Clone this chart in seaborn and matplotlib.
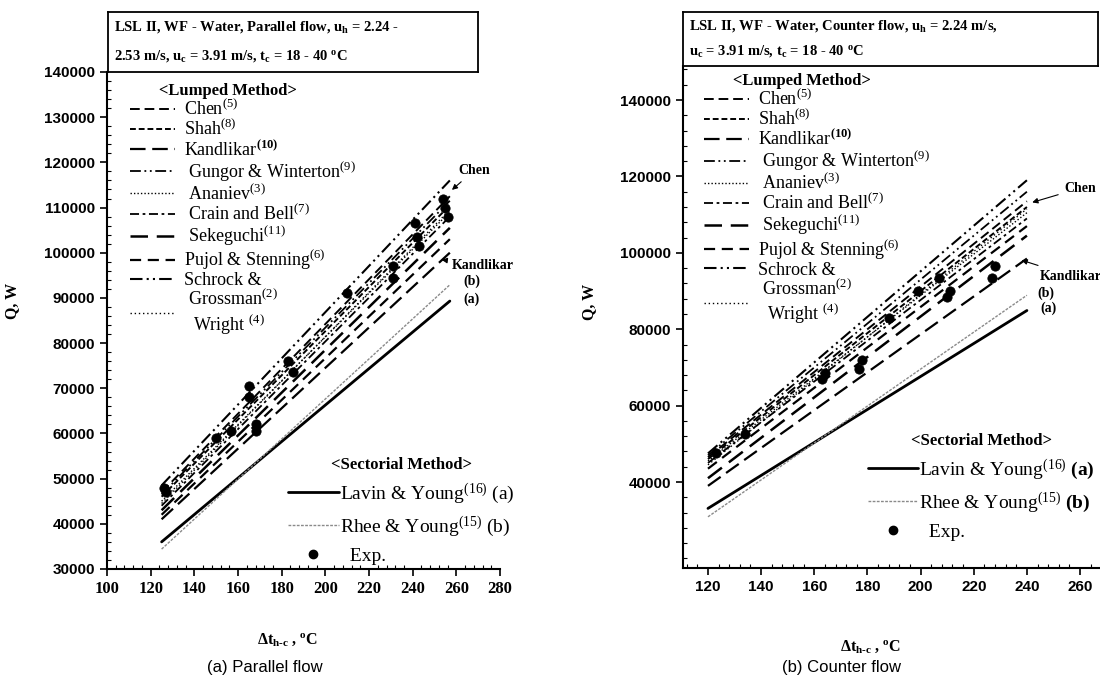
import matplotlib
matplotlib.use("Agg")
import matplotlib.pyplot as plt
import seaborn as sns
import pandas as pd
from matplotlib.lines import Line2D
from matplotlib.ticker import AutoMinorLocator, MultipleLocator

sns.set_style("ticks", {"axes.edgecolor": "black", "text.color": "black",
                        "xtick.color": "black", "ytick.color": "black",
                        "axes.labelcolor": "black"})
plt.rcParams['font.family'] = ['Liberation Serif', 'DejaVu Serif']
plt.rcParams['mathtext.fontset'] = 'custom'
plt.rcParams['mathtext.rm'] = 'Liberation Serif'
plt.rcParams['mathtext.it'] = 'Liberation Serif:italic'
plt.rcParams['mathtext.bf'] = 'Liberation Serif:bold'

# ---- data ----
methods = ["Chen", "Shah", "Kandlikar", "Gungor & Winterton", "Ananiev",
           "Crain and Bell", "Sekeguchi", "Pujol & Stenning", "Schrock & Grossman", "Wright"]

# parallel flow: correlations drawn between dt = 125 and 257
par_x = [125, 257]
par_start = [47000, 46000, 41000, 46500, 45000, 44000, 43000, 42000, 48500, 44500]
par_end = [112500, 110500, 100000, 111500, 109000, 108000, 105500, 103000, 116000, 109500]
par_lavin = [36000, 89300]
par_rhee = [34400, 92900]
par_exp_x = [126, 127, 150, 157, 165, 165, 168, 168, 183, 185, 210, 231, 231, 241, 242, 243, 254, 255, 256]
par_exp_y = [48000, 47000, 59000, 60500, 70500, 68000, 62000, 60500, 76000, 73500, 91000,
             97000, 94500, 106500, 103500, 101500, 112000, 110000, 108000]

# counter flow: correlations drawn between dt = 120 and 240
cnt_x = [120, 240]
cnt_start = [46500, 46000, 39000, 47000, 45500, 45000, 41000, 43500, 47500, 44500]
cnt_end = [113500, 112000, 98500, 116000, 110500, 109000, 104500, 107000, 119000, 111500]
cnt_lavin = [33100, 84900]
cnt_rhee = [30900, 88900]
cnt_exp_x = [123, 134, 163, 164, 177, 178, 188, 199, 207, 210, 211, 227, 228]
cnt_exp_y = [47500, 52500, 67000, 68500, 69500, 72000, 83000, 90000, 93500, 88500, 90000, 93500, 96500]

labels = ["Chen$^{(5)}$", "Shah$^{(8)}$", "Kandlikar$^{\\mathbf{(10)}}$",
          " Gungor & Winterton$^{(9)}$", " Ananiev$^{(3)}$", " Crain and Bell$^{(7)}$",
          " Sekeguchi$^{(11)}$", "Pujol & Stenning$^{(6)}$", "Schrock &",
          " Grossman$^{(2)}$\n  Wright $^{(4)}$"]

styles = {
    "Chen": dict(ls=(0, (5, 2.5)), lw=1.4),
    "Shah": dict(ls=(0, (3, 1.5)), lw=1.4),
    "Kandlikar": dict(ls=(0, (7, 3)), lw=1.6),
    "Gungor & Winterton": dict(ls=(0, (6, 2, 1, 2, 1, 2)), lw=1.3),
    "Ananiev": dict(ls=(0, (1, 1.5)), lw=1.0),
    "Crain and Bell": dict(ls=(0, (5, 2, 1.5, 2)), lw=1.3),
    "Sekeguchi": dict(ls=(0, (7, 3.5)), lw=1.8),
    "Pujol & Stenning": dict(ls=(0, (5, 3)), lw=1.6),
    "Schrock & Grossman": dict(ls=(0, (6, 2, 1, 2, 1, 2)), lw=1.5),
    "Wright": dict(ls=(0, (1, 2)), lw=1.0),
}

fig = plt.figure(figsize=(11, 6.87), dpi=100)
ax1 = fig.add_axes([0.0973, 0.1718, 0.3573, 0.7234])
ax2 = fig.add_axes([0.6209, 0.1732, 0.3791, 0.7307])


def draw_panel(ax, xs, starts, ends, lavin, rhee, ex, ey):
    rows = []
    for m, s, e in zip(methods, starts, ends):
        rows.append(pd.DataFrame({"dt": xs, "Q": [s, e], "method": m}))
    df = pd.concat(rows)
    for m in methods:
        st = styles[m]
        sns.lineplot(data=df[df.method == m], x="dt", y="Q", ax=ax, color="black",
                     linewidth=st["lw"], linestyle=st["ls"])
    sns.lineplot(x=xs, y=lavin, ax=ax, color="black", linewidth=2.0)
    sns.lineplot(x=xs, y=rhee, ax=ax, color="#8a8a8a", linewidth=1.0, linestyle=(0, (2, 1)))
    sns.scatterplot(x=ex, y=ey, ax=ax, color="black", s=45, edgecolor="black", zorder=5)
    return [Line2D([], [], color="black", lw=styles[m]["lw"], ls=styles[m]["ls"]) for m in methods]


def style_axes(ax):
    sns.despine(ax=ax, top=True, right=True)
    for s in ["left", "bottom"]:
        ax.spines[s].set_linewidth(1.5)
    ax.xaxis.set_minor_locator(AutoMinorLocator(5))
    ax.yaxis.set_minor_locator(AutoMinorLocator(5))
    ax.tick_params(which="major", direction="out", length=5, width=1.2)
    ax.tick_params(which="minor", direction="in", length=3, width=0.8)
    ax.set_ylabel("Q, W", fontsize=11.5, fontweight="bold")
    ax.set_xlabel("Δt$_\\mathbf{h\u2010c}$ , $^\\mathbf{o}$C", fontsize=11.5, fontweight="bold")


def title_box(rect, line1, line2):
    tb = fig.add_axes(rect)
    tb.set_xticks([])
    tb.set_yticks([])
    for s in tb.spines.values():
        s.set_linewidth(1.3)
        s.set_color("black")
    tb.text(0.015, 0.75, line1, fontsize=10.5, fontweight="bold", va="center", transform=tb.transAxes)
    tb.text(0.015, 0.27, line2, fontsize=10.5, fontweight="bold", va="center", transform=tb.transAxes)


# ---- (a) parallel flow ----
h1 = draw_panel(ax1, par_x, par_start, par_end, par_lavin, par_rhee, par_exp_x, par_exp_y)
ax1.set_xlim(100, 280)
ax1.set_ylim(30000, 140000)
ax1.xaxis.set_major_locator(MultipleLocator(20))
ax1.yaxis.set_major_locator(MultipleLocator(10000))
style_axes(ax1)
for t in ax1.get_yticklabels():
    t.set_fontfamily("Liberation Sans"); t.set_fontweight("bold"); t.set_fontsize(11)
for t in ax1.get_xticklabels():
    t.set_fontweight("bold"); t.set_fontsize(12)
ax1.yaxis.set_label_coords(-0.221, 0.54)
ax1.xaxis.set_label_coords(0.46, -0.125)

# ---- (b) counter flow ----
h2 = draw_panel(ax2, cnt_x, cnt_start, cnt_end, cnt_lavin, cnt_rhee, cnt_exp_x, cnt_exp_y)
ax2.set_xlim(110.6, 267.5)
ax2.set_ylim(17500, 148900)
ax2.xaxis.set_major_locator(MultipleLocator(20))
ax2.set_yticks([40000, 60000, 80000, 100000, 120000, 140000])
style_axes(ax2)
for t in ax2.get_yticklabels() + ax2.get_xticklabels():
    t.set_fontfamily("Liberation Sans"); t.set_fontweight("bold"); t.set_fontsize(11)
ax2.yaxis.set_label_coords(-0.206, 0.53)
ax2.xaxis.set_label_coords(0.45, -0.14)

sect_handles = [Line2D([], [], color="black", lw=2.0),
                Line2D([], [], color="#8a8a8a", lw=1.0, ls=(0, (2, 1))),
                Line2D([], [], color="black", ls="none", marker="o", ms=6)]


def legends(ax, h, lump_anchor, sect_anchor, sect_labels):
    lg = ax.legend(h, labels, loc="upper left", bbox_to_anchor=lump_anchor,
                   bbox_transform=ax.transData, frameon=False, borderpad=0,
                   handlelength=2.5, handletextpad=0.5, labelspacing=0.0,
                   alignment="left",
                   prop={"family": "Liberation Serif", "size": 13},
                   title="       <Lumped Method>",
                   title_fontproperties={"family": "Liberation Serif", "weight": "bold", "size": 12})
    ax.add_artist(lg)
    ax.legend(sect_handles, sect_labels, loc="upper left", bbox_to_anchor=sect_anchor,
              bbox_transform=ax.transData, frameon=False, borderpad=0,
              handlelength=2.6, handletextpad=0.05, labelspacing=0.45,
              prop={"family": "Liberation Serif", "size": 14},
              title="<Sectorial Method>",
              title_fontproperties={"family": "Liberation Serif", "weight": "bold", "size": 12})


legends(ax1, h1, (106.5, 139500), (178.5, 57000),
        ["Lavin & Young$^{(16)}$ (a)", "Rhee & Young$^{(15)}$ (b)", "  Exp."])
legends(ax2, h2, (115, 149500), (176.5, 55500),
        ["Lavin & Young$^{(16)}$ $\\mathbf{(a)}$", "Rhee & Young$^{(15)}$ $\\mathbf{(b)}$", "  Exp."])

ann = dict(fontsize=10, fontweight="bold")
arrow = dict(arrowstyle="-|>", color="black", lw=0.8, mutation_scale=8)
ax1.annotate("Chen", xy=(257, 113500), xytext=(261, 117500), arrowprops=arrow, **ann)
ax1.annotate("Kandlikar", xy=(252, 98500), xytext=(258, 96500), arrowprops=arrow, **ann)
ax1.text(263, 92800, "(b)", **ann)
ax1.text(263, 88800, "(a)", **ann)
ax2.annotate("Chen", xy=(241, 113000), xytext=(254, 116000), arrowprops=arrow, **ann)
ax2.annotate("Kandlikar", xy=(237, 98300), xytext=(245, 93000), arrowprops=arrow, **ann)
ax2.text(244, 88500, "(b)", **ann)
ax2.text(245, 84500, "(a)", **ann)

title_box([0.0982, 0.8952, 0.3364, 0.0873],
          "LSL II, WF - Water, Parallel flow, u$_\\mathbf{h}$ = 2.24 -",
          "2.53 m/s, u$_\\mathbf{c}$ = 3.91 m/s, t$_\\mathbf{c}$ = 18 - 40 $^\\mathbf{o}$C")
title_box([0.6209, 0.9039, 0.3773, 0.0786],
          "LSL II, WF - Water, Counter flow, u$_\\mathbf{h}$ = 2.24 m/s,",
          "u$_\\mathbf{c}$ = 3.91 m/s, t$_\\mathbf{c}$ = 18 - 40 $^\\mathbf{o}$C")

fig.text(0.241, 0.028, "(a) Parallel flow", fontsize=12, family="Liberation Sans", ha="center", va="center")
fig.text(0.765, 0.028, "(b) Counter flow", fontsize=12, family="Liberation Sans", ha="center", va="center")

fig.savefig("out.png", dpi=100)
